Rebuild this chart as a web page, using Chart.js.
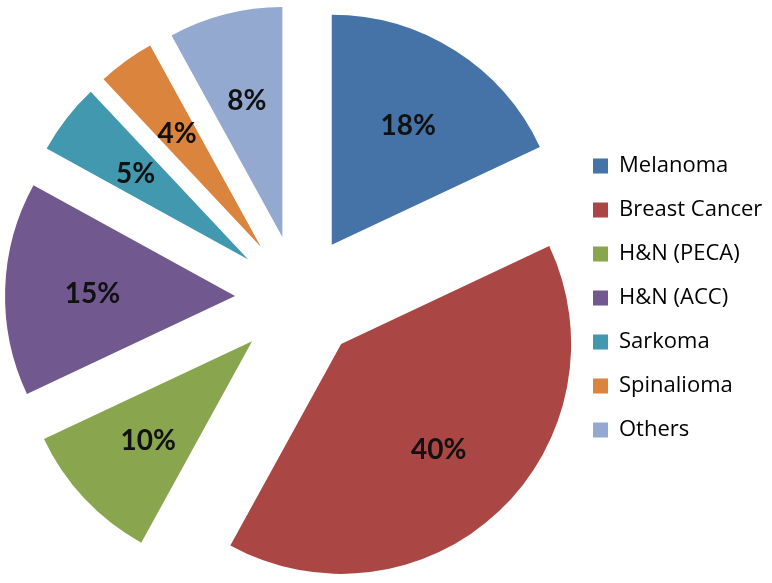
<!DOCTYPE html>
<html>
<head>
<meta charset="utf-8">
<script src="https://cdn.jsdelivr.net/npm/chart.js@4.4.1/dist/chart.umd.min.js"></script>
<style>
  html, body { margin: 0; padding: 0; background: #fff; }
</style>
</head>
<body>
<canvas id="pieCanvas" width="772" height="583"></canvas>
<script>
var labels = ['Melanoma', 'Breast Cancer', 'H&N (PECA)', 'H&N (ACC)', 'Sarkoma', 'Spinalioma', 'Others'];
var shares = [18, 40, 10, 15, 5, 4, 8];
var colors = ['#4572A7', '#AA4643', '#89A54E', '#71588F', '#4198AF', '#DB843D', '#93A9CF'];

var EXPLODE = 63;      // how far every slice is pulled out
var RADIUS = 230;
var LABEL_POS = 0.62;  // share of radius where the % text sits
var legendFont = {family: 'Open Sans', size: 22};
var legendPad = 22;

// work out legend width so that the boxes land at x≈593
var mctx = document.createElement('canvas').getContext('2d');
mctx.font = legendFont.size + 'px "' + legendFont.family + '"';
var maxText = 0;
labels.forEach(function (l) { maxText = Math.max(maxText, mctx.measureText(l).width); });
var legendLeft = 593 - legendPad;
var legendWidth = legendPad + 15 + legendFont.size / 2 + maxText + 10;
var padRight = 772 - legendLeft - legendWidth;
var padLeft = 2 * 298 - legendLeft;

var explodePlugin = {
    id: 'explode',
    beforeDatasetsDraw: function (chart) {
        var area = chart.chartArea;
        var cx = (area.left + area.right) / 2;
        var cy = (area.top + area.bottom) / 2;
        chart.getDatasetMeta(0).data.forEach(function (arc) {
            var mid = (arc.startAngle + arc.endAngle) / 2;
            arc.x = cx + Math.cos(mid) * EXPLODE;
            arc.y = cy + Math.sin(mid) * EXPLODE;
        });
    },
    afterDatasetsDraw: function (chart) {
        var ctx = chart.ctx;
        var total = shares.reduce(function (a, b) { return a + b; }, 0);
        ctx.save();
        ctx.font = 'bold 28px Lato';
        ctx.fillStyle = '#111';
        ctx.textAlign = 'center';
        ctx.textBaseline = 'middle';
        chart.getDatasetMeta(0).data.forEach(function (arc, i) {
            var mid = (arc.startAngle + arc.endAngle) / 2;
            var r = arc.outerRadius * LABEL_POS;
            var txt = Math.round(shares[i] / total * 100) + '%';
            ctx.fillText(txt, arc.x + Math.cos(mid) * r, arc.y + Math.sin(mid) * r + 2);
        });
        ctx.restore();
    }
};

new Chart(document.getElementById('pieCanvas').getContext('2d'), {
    type: 'pie',
    data: {
        labels: labels,
        datasets: [{
            data: shares,
            backgroundColor: colors,
            borderWidth: 0,
            radius: RADIUS
        }]
    },
    options: {
        responsive: false,
        animation: false,
        events: [],
        layout: {
            padding: {top: 13, bottom: 0, left: padLeft, right: padRight}
        },
        plugins: {
            tooltip: {enabled: false},
            legend: {
                position: 'right',
                labels: {
                    boxWidth: 15,
                    boxHeight: 15,
                    padding: legendPad,
                    color: '#000',
                    font: legendFont
                }
            }
        }
    },
    plugins: [explodePlugin]
});
</script>
</body>
</html>
